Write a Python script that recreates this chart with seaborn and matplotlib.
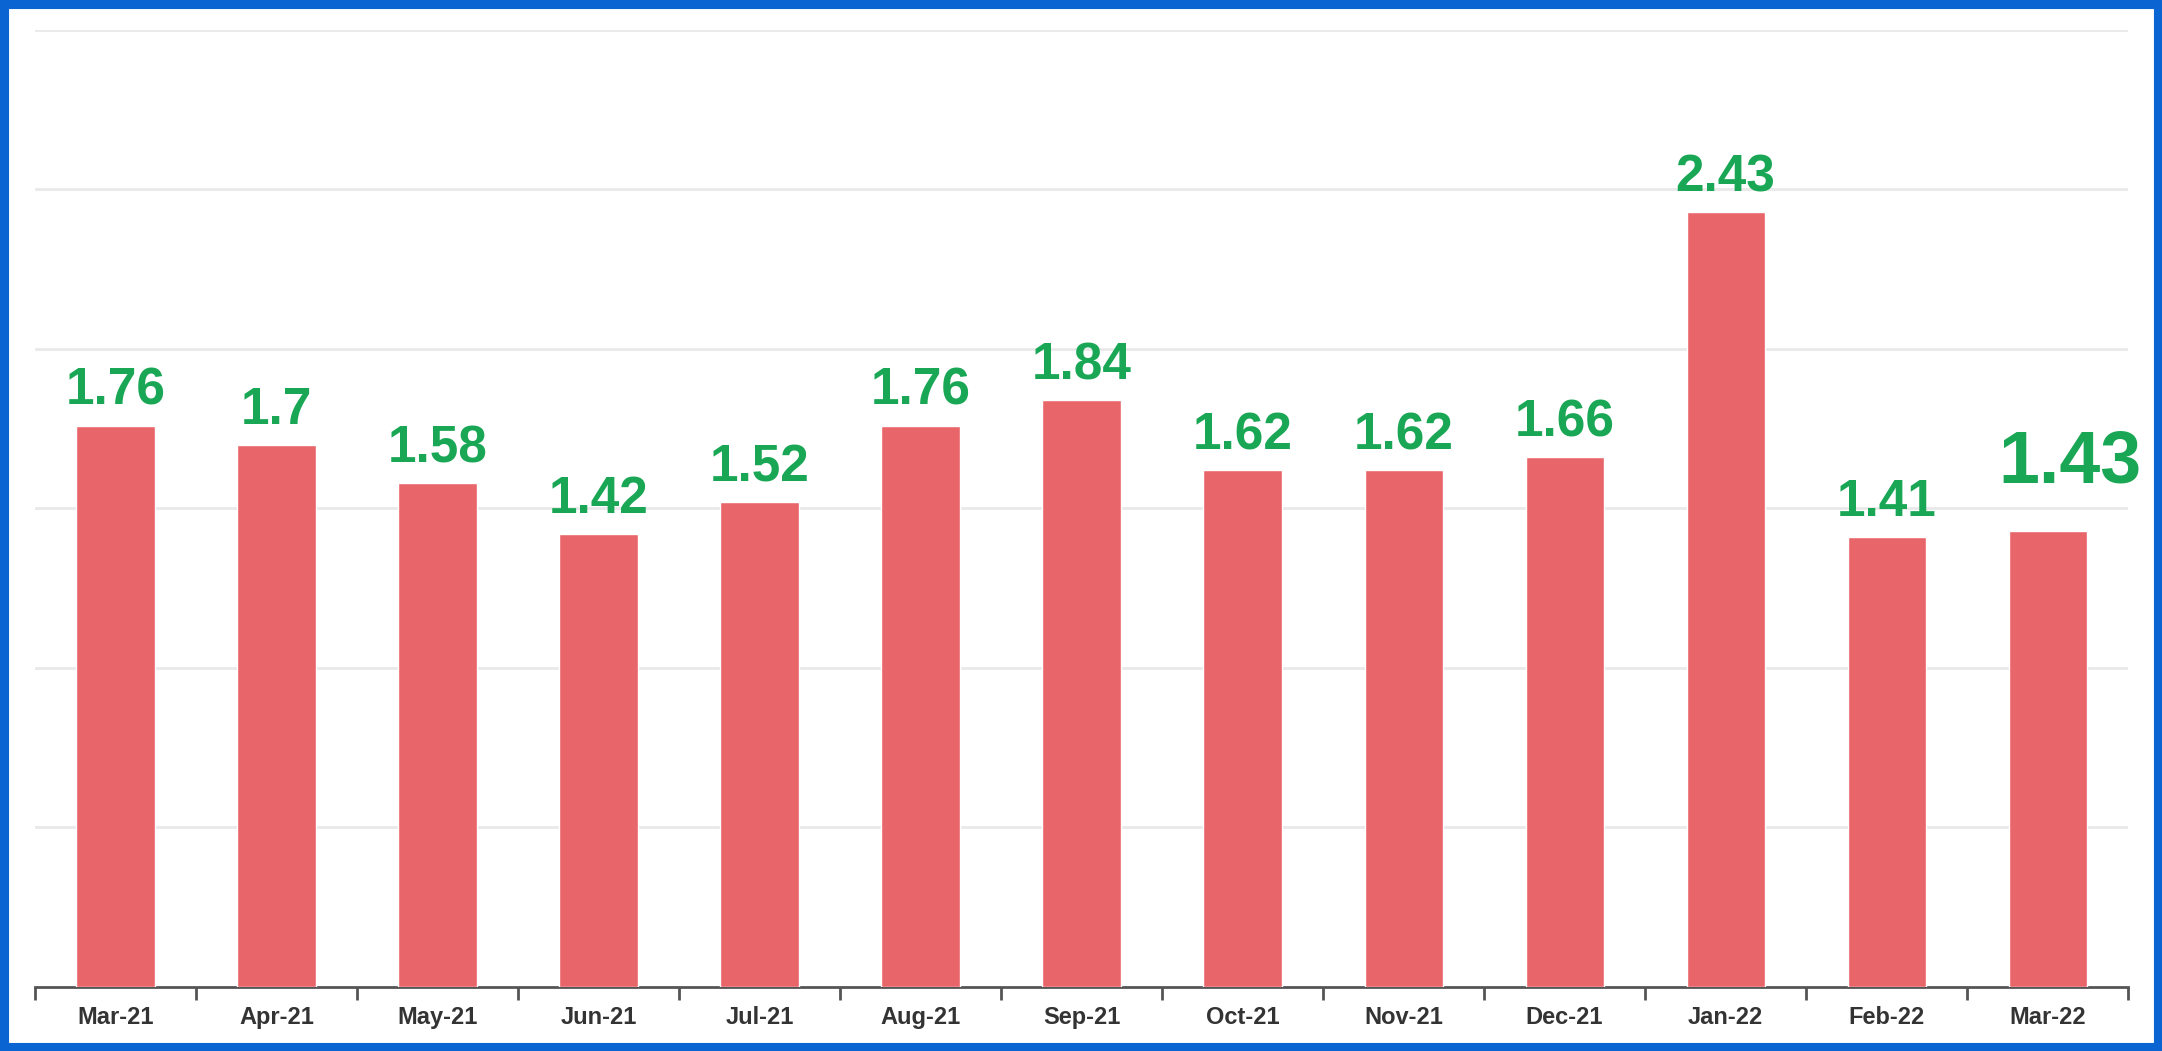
import pandas as pd
import matplotlib
matplotlib.use('Agg')
import matplotlib.pyplot as plt
import seaborn as sns
from matplotlib.patches import Rectangle

# Données mensuelles
months = ['Mar-21', 'Apr-21', 'May-21', 'Jun-21', 'Jul-21', 'Aug-21', 'Sep-21',
          'Oct-21', 'Nov-21', 'Dec-21', 'Jan-22', 'Feb-22', 'Mar-22']
values = [1.76, 1.70, 1.58, 1.42, 1.52, 1.76, 1.84, 1.62, 1.62, 1.66, 2.43, 1.41, 1.43]
labels = ['1.76', '1.7', '1.58', '1.42', '1.52', '1.76', '1.84', '1.62', '1.62', '1.66', '2.43', '1.41', '1.43']

df = pd.DataFrame({'Month': months, 'Value': values})

sns.set_style('white')
plt.rcParams['font.family'] = ['Liberation Sans', 'DejaVu Sans']

BAR = '#E8666A'
GREEN = '#1AA755'

fig = plt.figure(figsize=(21.62, 10.51), dpi=100)
fig.patch.set_facecolor('white')
ax = fig.add_axes([0.0162, 0.0609, 0.9681, 0.9106])

sns.barplot(data=df, x='Month', y='Value', color=BAR, width=0.485,
            saturation=1, ax=ax, zorder=3)

ax.set_ylim(0, 3.0)
ax.set_xlim(-0.5, len(months) - 0.5)
ax.set_yticks([0.5, 1.0, 1.5, 2.0, 2.5, 3.0])
ax.set_yticklabels([])
ax.tick_params(axis='y', length=0)
ax.grid(axis='y', color='#E9E9E9', linewidth=2, zorder=0)
ax.set_axisbelow(True)

# ticks aux limites des catégories
ax.set_xticks(range(len(months)))
ax.set_xticklabels(months, fontsize=17, fontweight='bold', color='#333333')
ax.tick_params(axis='x', which='major', length=0, pad=14)
ax.set_xticks([i - 0.5 for i in range(len(months) + 1)], minor=True)
ax.tick_params(axis='x', which='minor', bottom=True, length=9, width=2,
               color='#555555', direction='out')

for s in ['top', 'right', 'left']:
    ax.spines[s].set_visible(False)
ax.spines['bottom'].set_color('#555555')
ax.spines['bottom'].set_linewidth(2)
ax.set_xlabel('')
ax.set_ylabel('')

# Étiquettes de valeurs
for i, (v, lab) in enumerate(zip(values, labels)):
    if i == len(values) - 1:
        ax.annotate(lab, (i, v), xytext=(16, 24), textcoords='offset points',
                    ha='center', va='bottom', fontsize=53, fontweight='bold', color=GREEN)
    else:
        ax.annotate(lab, (i, v), xytext=(0, 7), textcoords='offset points',
                    ha='center', va='bottom', fontsize=37, fontweight='bold', color=GREEN)

# Cadre bleu
fig.add_artist(Rectangle((0.0016, 0.0024), 0.9968, 0.9952, transform=fig.transFigure,
                         fill=False, edgecolor='#0A64D2', linewidth=8, zorder=10))

plt.savefig('out.png', dpi=100)
